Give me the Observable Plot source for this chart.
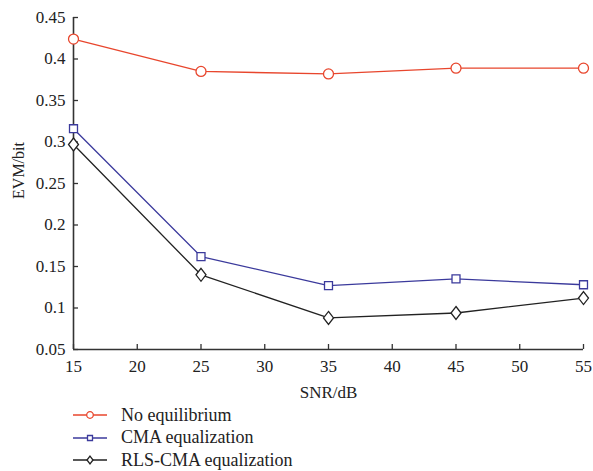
<!DOCTYPE html>
<html>
<head>
<meta charset="utf-8">
<script src="https://cdn.jsdelivr.net/npm/d3@7"></script>
<script src="https://cdn.jsdelivr.net/npm/@observablehq/plot@0.6"></script>
<style>
  body { margin: 0; background: #fff; font-family: "Liberation Serif", serif; }
  #legend { margin: 0; padding: 0; }
  .row { display: flex; align-items: center; height: 22.5px; font-size: 18px; color: #222; }
  .row svg { margin-left: 73px; margin-right: 14px; }
</style>
</head>
<body>
<div id="chart"></div>
<div id="legend"></div>
<script>
// SNR levels (dB) and measured EVM for each equalization scheme
const snr = [15, 25, 35, 45, 55];
const noEqualization = [0.424, 0.385, 0.382, 0.389, 0.389];
const cmaEqualization = [0.316, 0.162, 0.127, 0.135, 0.128];
const rlsCmaEqualization = [0.297, 0.140, 0.088, 0.094, 0.112];

const seriesNames = ["No equilibrium", "CMA equalization", "RLS-CMA equalization"];
const seriesColors = ["#e8462d", "#3b3a9c", "#222222"];

const xTicks = [15, 20, 25, 30, 35, 40, 45, 50, 55];
const yTicks = [0.05, 0.1, 0.15, 0.2, 0.25, 0.3, 0.35, 0.4, 0.45];

// Tall diamond symbol, as used for the RLS-CMA curve
const tallDiamond = {
  draw(ctx, size) {
    const r = Math.sqrt(size / Math.PI);
    ctx.moveTo(0, -1.3 * r);
    ctx.lineTo(r, 0);
    ctx.lineTo(0, 1.3 * r);
    ctx.lineTo(-r, 0);
    ctx.closePath();
  }
};

const symbols = ["circle", "square", tallDiamond];
const radii = [5, 4.5, 5];
const values = [noEqualization, cmaEqualization, rlsCmaEqualization];

const rows = [];
seriesNames.forEach((name, i) => {
  snr.forEach((x, j) => rows.push({series: name, snr: x, evm: values[i][j], i}));
});

const seriesMarks = seriesNames.flatMap((name, i) => {
  const d = rows.filter(r => r.series === name);
  return [
    Plot.line(d, {x: "snr", y: "evm", stroke: seriesColors[i], strokeWidth: 1.3}),
    Plot.dot(d, {x: "snr", y: "evm", stroke: seriesColors[i], fill: "white", strokeWidth: 1.3,
                 symbol: () => symbols[i], r: radii[i]})
  ];
});

const fmt = d => String(+d.toFixed(2));

const chart = Plot.plot({
  width: 593,
  height: 404,
  marginLeft: 73,
  marginRight: 10,
  marginTop: 17,
  marginBottom: 55,
  style: {fontFamily: "Liberation Serif, serif", fontSize: "17px", color: "#222", background: "white"},
  x: {domain: [15, 55]},
  y: {domain: [0.05, 0.45]},
  marks: [
    // inward tick marks
    Plot.axisX({ticks: xTicks, tickSize: -5, tickFormat: () => "", label: null, stroke: "#333", strokeWidth: 1.3}),
    Plot.axisY({ticks: yTicks, tickSize: -5, tickFormat: () => "", label: null, stroke: "#333", strokeWidth: 1.3}),
    // tick labels and x title
    Plot.axisX({ticks: xTicks, tickSize: 0, tickPadding: 10, tickFormat: fmt,
                label: "SNR/dB", labelAnchor: "center", labelArrow: "none", labelOffset: 48}),
    Plot.axisY({ticks: yTicks, tickSize: 0, tickPadding: 8, tickFormat: fmt, label: null}),
    // y title, set slightly above the frame centre
    Plot.text(["EVM/bit"], {frameAnchor: "left", textAnchor: "middle", rotate: -90, dx: -55, dy: -13,
                            fontSize: 16, fill: "#222"}),
    Plot.ruleY([0.05], {stroke: "#333", strokeWidth: 1.6}),
    Plot.ruleX([15], {stroke: "#333", strokeWidth: 1.6}),
    ...seriesMarks
  ]
});
document.getElementById("chart").appendChild(chart);

// Legend below the plot
const legend = d3.select("#legend");
seriesNames.forEach((name, i) => {
  const row = legend.append("div").attr("class", "row");
  const svg = row.append("svg").attr("width", 34).attr("height", 14);
  svg.append("line").attr("x1", 0).attr("x2", 34).attr("y1", 7).attr("y2", 7)
    .attr("stroke", seriesColors[i]).attr("stroke-width", 1.3);
  const sym = i === 2 ? tallDiamond : (i === 0 ? d3.symbolCircle : d3.symbolSquare);
  const size = i === 0 ? Math.PI * 3.3 * 3.3 : (i === 1 ? 25 : Math.PI * 9);
  svg.append("path").attr("transform", "translate(17,7)")
    .attr("d", d3.symbol(sym, size)())
    .attr("fill", "white").attr("stroke", seriesColors[i]).attr("stroke-width", 1.3);
  row.append("span").text(name);
});
</script>
</body>
</html>
